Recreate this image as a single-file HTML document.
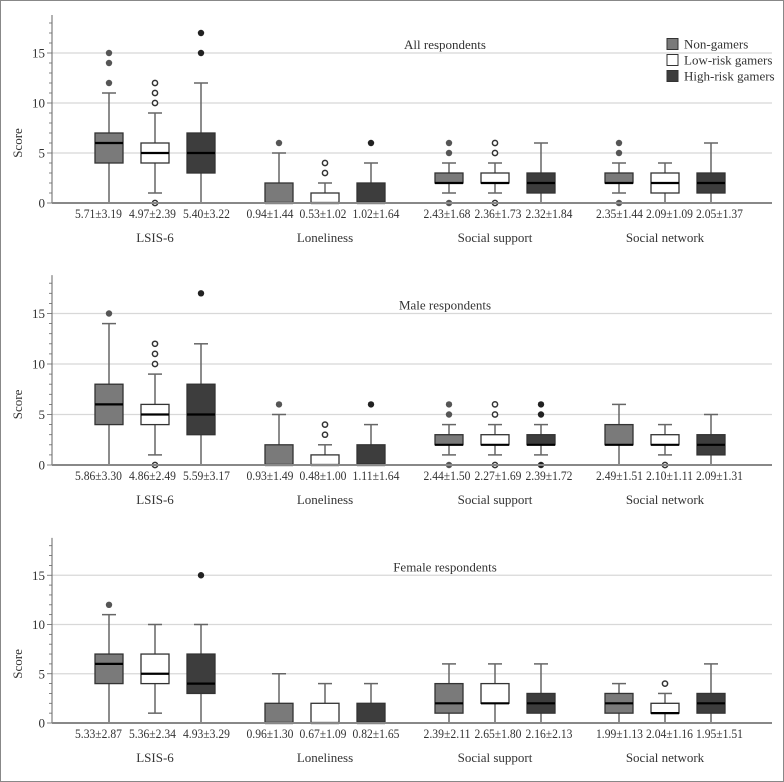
<!DOCTYPE html>
<html><head><meta charset="utf-8">
<style>
html,body{margin:0;padding:0;background:#fff;}
svg{display:block;font-family:"Liberation Serif",serif;}
</style></head>
<body>
<svg id="chart" width="784" height="782" viewBox="0 0 784 782" xmlns="http://www.w3.org/2000/svg">
<rect x="0.5" y="0.5" width="783" height="781" fill="#fff" stroke="#888" stroke-width="1"/>
</svg>
<script>
const panelTitles = ["All respondents","Male respondents","Female respondents"];
const categories = ["LSIS-6","Loneliness","Social support","Social network"];
const groups = ["Non-gamers","Low-risk gamers","High-risk gamers"];
const yTicks = [0,5,10,15];
// each box: [whiskerLow, q1, median, q3, whiskerHigh]
const boxesAll = [
 [[0,4,6,7,11],[1,4,5,6,9],[0,3,5,7,12]],
 [[0,0,0,2,5],[0,0,0,1,2],[0,0,0,2,4]],
 [[1,2,2,3,4],[1,2,2,3,4],[0,1,2,3,6]],
 [[1,2,2,3,4],[0,1,2,3,4],[0,1,2,3,6]]
];
const outliersAll = [
 [[12,14,15],[0,10,11,12],[15,17]],
 [[6],[3,4],[6]],
 [[0,5,6],[0,5,6],[]],
 [[0,5,6],[],[]]
];
const labelsAll = [["5.71±3.19","4.97±2.39","5.40±3.22"],["0.94±1.44","0.53±1.02","1.02±1.64"],["2.43±1.68","2.36±1.73","2.32±1.84"],["2.35±1.44","2.09±1.09","2.05±1.37"]];
const boxesMale = [
 [[0,4,6,8,14],[1,4,5,6,9],[0,3,5,8,12]],
 [[0,0,0,2,5],[0,0,0,1,2],[0,0,0,2,4]],
 [[1,2,2,3,4],[1,2,2,3,4],[1,2,2,3,4]],
 [[0,2,2,4,6],[1,2,2,3,4],[0,1,2,3,5]]
];
const outliersMale = [
 [[15],[0,10,11,12],[17]],
 [[6],[3,4],[6]],
 [[0,5,6],[0,5,6],[0,5,6]],
 [[],[0],[]]
];
const labelsMale = [["5.86±3.30","4.86±2.49","5.59±3.17"],["0.93±1.49","0.48±1.00","1.11±1.64"],["2.44±1.50","2.27±1.69","2.39±1.72"],["2.49±1.51","2.10±1.11","2.09±1.31"]];
const boxesFemale = [
 [[0,4,6,7,11],[1,4,5,7,10],[0,3,4,7,10]],
 [[0,0,0,2,5],[0,0,0,2,4],[0,0,0,2,4]],
 [[0,1,2,4,6],[0,2,2,4,6],[0,1,2,3,6]],
 [[0,1,2,3,4],[0,1,1,2,3],[0,1,2,3,6]]
];
const outliersFemale = [
 [[12],[],[15]],
 [[],[],[]],
 [[],[],[]],
 [[],[4],[]]
];
const labelsFemale = [["5.33±2.87","5.36±2.34","4.93±3.29"],["0.96±1.30","0.67±1.09","0.82±1.65"],["2.39±2.11","2.65±1.80","2.16±2.13"],["1.99±1.13","2.04±1.16","1.95±1.51"]];

const NS="http://www.w3.org/2000/svg";
const svg=document.getElementById('chart');
const fills=["#7a7a7a","#ffffff","#3d3d3d"];
function mk(tag,attrs,parent){const e=document.createElementNS(NS,tag);for(const k in attrs)e.setAttribute(k,attrs[k]);(parent||svg).appendChild(e);return e;}

const panels=[
 {base:203,k:10,boxes:boxesAll,out:outliersAll,labels:labelsAll,title:panelTitles[0]},
 {base:465,k:10.1,boxes:boxesMale,out:outliersMale,labels:labelsMale,title:panelTitles[1]},
 {base:723,k:9.85,boxes:boxesFemale,out:outliersFemale,labels:labelsFemale,title:panelTitles[2]}
];
const X0=52,X1=772,groupCenters=[155,325,495,665],off=46,bw=28;
const labelCenters=[152.5,323,498,669.5],labelSpacing=[54,53,51,50];

panels.forEach((p,pi)=>{
 const g=mk('g',{});
 
 
 const y=v=>p.base-v*p.k;
 yTicks.forEach(t=>{ if(t>0){const l=mk('line',{x1:X0,x2:X1,y1:y(t),y2:y(t),stroke:'#d8d8d8','stroke-width':1.2},g);
   
   }
   const tx=mk('text',{x:45,y:y(t)+4.5,'text-anchor':'end','font-size':13,fill:'#333'},g);tx.textContent=t;
   
   
 });
 for(let v=0;v<=18;v++){const l=mk('line',{x1:X0-(v%5===0?5:3),x2:X0,y1:y(v),y2:y(v),stroke:'#666','stroke-width':0.8},g);
  
  }
 const ax=mk('line',{x1:X0,x2:X0,y1:p.base,y2:y(18.8),stroke:'#666','stroke-width':1},g);
 
 
 const yt=mk('text',{x:0,y:0,'font-size':13,fill:'#333','text-anchor':'middle',transform:`translate(22,${y(6)}) rotate(-90)`},g);yt.textContent='Score';
 
 
 const tt=mk('text',{x:445,y:y(15)-4,'font-size':13,fill:'#333','text-anchor':'middle'},g);tt.textContent=p.title;
 
 
 categories.forEach((c,ci)=>{
  groups.forEach((gr,gi)=>{
   const cx=groupCenters[ci]+(gi-1)*off;
   const b=p.boxes[ci][gi];
   const bg=mk('g',{},g);
   
   
   mk('line',{x1:cx,x2:cx,y1:y(b[0]),y2:y(b[4]),stroke:'#666','stroke-width':1.5},bg);
   mk('line',{x1:cx-7,x2:cx+7,y1:y(b[4]),y2:y(b[4]),stroke:'#666','stroke-width':1.5},bg);
   mk('line',{x1:cx-7,x2:cx+7,y1:y(b[0]),y2:y(b[0]),stroke:'#666','stroke-width':1.5},bg);
   mk('rect',{x:cx-bw/2,y:y(b[3]),width:bw,height:Math.max(1,y(b[1])-y(b[3])),fill:fills[gi],stroke:'#333','stroke-width':1.3},bg);
   mk('line',{x1:cx-bw/2,x2:cx+bw/2,y1:y(b[2]),y2:y(b[2]),stroke:'#000','stroke-width':2.2},bg);
   p.out[ci][gi].forEach(o=>{
    const d=mk('circle',{cx:cx,cy:y(o),r:gi===1?2.6:3.2,fill:gi===1?'#fff':(gi===0?'#555':'#222'),stroke:gi===1?'#333':'none','stroke-width':1.5},bg);
    
    
   });
   const lx=labelCenters[ci]+(gi-1)*labelSpacing[ci];
   const lt=mk('text',{x:lx,y:p.base+15,'font-size':12.5,fill:'#333','text-anchor':'middle',textLength:47,lengthAdjust:'spacingAndGlyphs'},g);lt.textContent=p.labels[ci][gi];
   
   
  });
  const ct=mk('text',{x:groupCenters[ci],y:p.base+39,'font-size':13,fill:'#333','text-anchor':'middle'},g);ct.textContent=c;
  
  
 });
 const xa=mk('line',{x1:X0,x2:X1,y1:p.base,y2:p.base,stroke:'#888','stroke-width':2},g);
 
 
});
const lg=mk('g',{});


groups.forEach((gr,gi)=>{
 const yy=44+gi*16;
 const e=mk('g',{},lg);
 
 
 mk('rect',{x:667,y:yy-5.5,width:11,height:11,fill:fills[gi],stroke:'#333','stroke-width':1},e);
 const t=mk('text',{x:684,y:yy+4.5,'font-size':13,fill:'#333'},e);t.textContent=gr;
});
</script>
</body></html>
